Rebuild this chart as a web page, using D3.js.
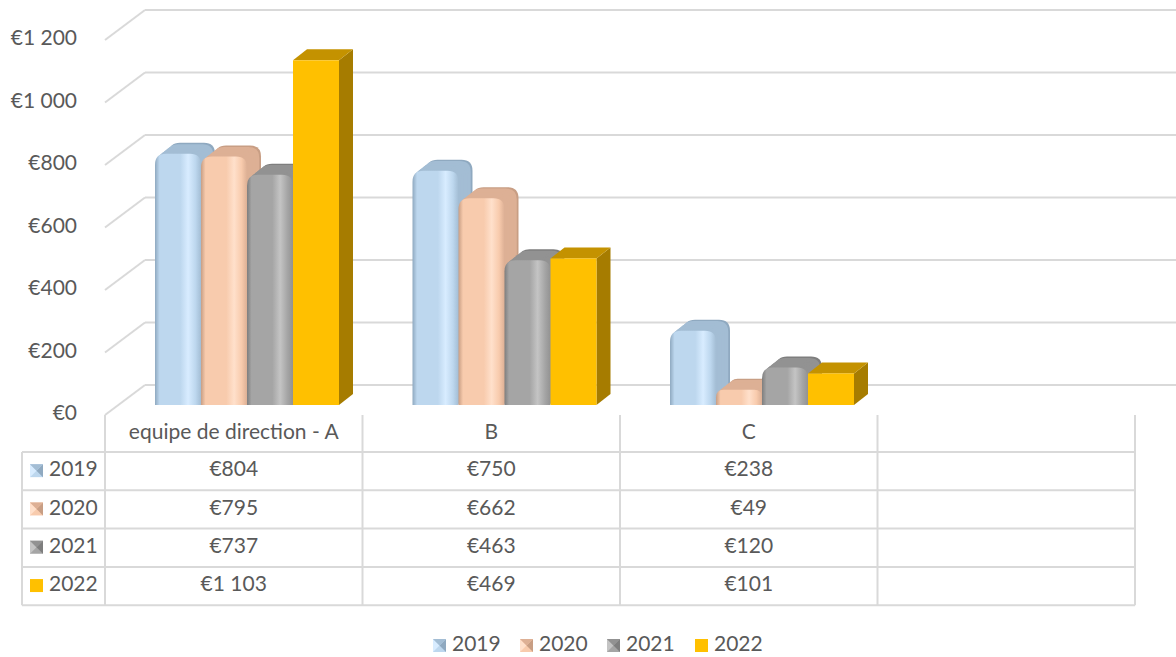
<!DOCTYPE html>
<html>
<head>
<meta charset="utf-8">
<script src="https://cdnjs.cloudflare.com/ajax/libs/d3/7.8.5/d3.min.js"></script>
<style>
  body { margin: 0; background: #fff; }
  text { font-family: Lato, "Open Sans", sans-serif; fill: #595959; }
</style>
</head>
<body>
<div id="chart"></div>
<script>
// Data
const categories = ["equipe de direction - A", "B", "C", ""];
const series = ["2019", "2020", "2021", "2022"];
const values2019 = [804, 750, 238, null];
const values2020 = [795, 662, 49, null];
const values2021 = [737, 463, 120, null];
const values2022 = [1103, 469, 101, null];
const yTicks = [0, 200, 400, 600, 800, 1000, 1200];

const allValues = [values2019, values2020, values2021, values2022];

// styling per series
const styles = [
    { base: "#BDD7EE", edge: "#A3BDD4", light: "#D8ECFF", dark: "#8FA9C0", bevel: true },
    { base: "#F8CBAD", edge: "#DDB095", light: "#FFE0CB", dark: "#C89E84", bevel: true },
    { base: "#A5A5A5", edge: "#929292", light: "#C4C4C4", dark: "#7E7E7E", bevel: true },
    { base: "#FFC000", edge: "#FFC000", light: "#FFC000", dark: "#A67C00", top: "#C49200", bevel: false }
];

const width = 1176, height = 657;
const depthX = 40, depthY = -30;       // wall depth
const barDX = 14, barDY = -11;         // bar depth
const fontSize = "21px";

const eur = d3.formatLocale({ decimal: ",", thousands: " ", grouping: [3], currency: ["€", ""] });
const fmt = eur.format("$,.0f");

const svg = d3.select("#chart").append("svg")
    .attr("width", width).attr("height", height);

const defs = svg.append("defs");
styles.forEach((s, i) => {
    if (!s.bevel) return;
    const g = defs.append("linearGradient").attr("id", "grad" + i)
        .attr("x1", "0%").attr("x2", "100%").attr("y1", "0%").attr("y2", "0%");
    g.append("stop").attr("offset", "0%").attr("stop-color", s.dark);
    g.append("stop").attr("offset", "10%").attr("stop-color", s.base);
    g.append("stop").attr("offset", "55%").attr("stop-color", s.base);
    g.append("stop").attr("offset", "72%").attr("stop-color", s.light);
    g.append("stop").attr("offset", "88%").attr("stop-color", s.base);
    g.append("stop").attr("offset", "100%").attr("stop-color", s.edge);
    const k = defs.append("linearGradient").attr("id", "key" + i)
        .attr("x1", "0%").attr("x2", "100%").attr("y1", "0%").attr("y2", "0%");
    k.append("stop").attr("offset", "0%").attr("stop-color", s.light);
    k.append("stop").attr("offset", "100%").attr("stop-color", s.dark);
});

// scales
const x = d3.scaleBand().domain(categories).range([105, 1135]);
const xs = d3.scaleBand().domain(series).range([50, 234]);
const y = d3.scaleLinear().domain([0, 1200]).range([405, 30]);

// gridlines: back wall + left side wall
const grid = svg.append("g");
yTicks.forEach(t => {
    const yf = y(t) + 10;
    grid.append("line")
        .attr("x1", 105).attr("y1", yf)
        .attr("x2", 105 + depthX).attr("y2", yf + depthY)
        .attr("stroke", "#D9D9D9").attr("stroke-width", 2);
    grid.append("line")
        .attr("x1", 105 + depthX).attr("y1", yf + depthY)
        .attr("x2", width).attr("y2", yf + depthY)
        .attr("stroke", "#D9D9D9").attr("stroke-width", 2);
    svg.append("text")
        .attr("x", 77).attr("y", yf)
        .attr("text-anchor", "end").attr("dominant-baseline", "middle")
        .style("font-size", fontSize)
        .text(fmt(t));
});

// rounded-top shape
function roundTop(x0, y0, w, h, r) {
    r = Math.min(r, h / 2, w / 2);
    return `M${x0},${y0 + h} L${x0},${y0 + r} Q${x0},${y0} ${x0 + r},${y0} ` +
        `L${x0 + w - r},${y0} Q${x0 + w},${y0} ${x0 + w},${y0 + r} L${x0 + w},${y0 + h} Z`;
}

const bars = svg.append("g");
categories.forEach((c, ci) => {
    series.forEach((s, si) => {
        const v = allValues[si][ci];
        if (v === null || v === undefined) return;
        const st = styles[si];
        const x0 = x(c) + xs(s);
        const w = xs.bandwidth();
        const y0 = y(v);
        const h = y(0) - y0;
        if (st.bevel) {
            // extrusion of the rounded shape towards the back
            const steps = 8;
            for (let k = steps; k >= 1; k--) {
                const f = k / steps;
                bars.append("path")
                    .attr("d", roundTop(x0 + barDX * f, y0 + barDY * f, w, h, 11))
                    .attr("fill", k === steps ? st.dark : st.edge);
            }
            bars.append("path")
                .attr("d", roundTop(x0, y0, w, h, 11))
                .attr("fill", `url(#grad${si})`);
        } else {
            // plain box
            bars.append("path")
                .attr("d", `M${x0 + w},${y0} L${x0 + w + barDX},${y0 + barDY} L${x0 + w + barDX},${y0 + h + barDY} L${x0 + w},${y0 + h} Z`)
                .attr("fill", st.dark);
            bars.append("path")
                .attr("d", `M${x0},${y0} L${x0 + barDX},${y0 + barDY} L${x0 + w + barDX},${y0 + barDY} L${x0 + w},${y0} Z`)
                .attr("fill", st.top);
            bars.append("rect")
                .attr("x", x0).attr("y", y0).attr("width", w).attr("height", h)
                .attr("fill", st.base);
        }
    });
});

// legend key drawer
function drawKey(g, kx, ky, si) {
    const st = styles[si];
    const s = 13;
    if (!st.bevel) {
        g.append("rect").attr("x", kx).attr("y", ky).attr("width", s).attr("height", s).attr("fill", st.base);
        return;
    }
    g.append("rect").attr("x", kx).attr("y", ky).attr("width", s).attr("height", s).attr("fill", st.base);
    g.append("path")
        .attr("d", `M${kx},${ky} L${kx + s / 2},${ky + s / 2} L${kx},${ky + s} Z`)
        .attr("fill", st.light);
    g.append("path")
        .attr("d", `M${kx + s},${ky} L${kx + s},${ky + s} L${kx + s / 2},${ky + s / 2} Z`)
        .attr("fill", st.dark);
    g.append("path")
        .attr("d", `M${kx},${ky} L${kx + s},${ky} L${kx + s / 2},${ky + s / 2} Z`)
        .attr("fill", st.edge);
}

// data table
const table = svg.append("g");
const rowTop = 452, rowH = 38.3;
const lineColor = "#D9D9D9";
// vertical category separators
x.domain().concat(["end"]).forEach((c, i) => {
    const xv = i < categories.length ? x(c) : x.range()[1];
    table.append("line")
        .attr("x1", xv).attr("x2", xv).attr("y1", 415).attr("y2", rowTop + rowH * 4)
        .attr("stroke", lineColor).attr("stroke-width", 2);
});
table.append("line")
    .attr("x1", 22).attr("x2", 22).attr("y1", rowTop).attr("y2", rowTop + rowH * 4)
    .attr("stroke", lineColor).attr("stroke-width", 2);
d3.range(5).forEach(r => {
    table.append("line")
        .attr("x1", 22).attr("x2", 1135)
        .attr("y1", rowTop + r * rowH).attr("y2", rowTop + r * rowH)
        .attr("stroke", lineColor).attr("stroke-width", 2);
});
// header
categories.forEach(c => {
    table.append("text")
        .attr("x", x(c) + x.bandwidth() / 2).attr("y", 434)
        .attr("text-anchor", "middle").attr("dominant-baseline", "middle")
        .style("font-size", fontSize).text(c);
});
series.forEach((s, si) => {
    const cy = rowTop + si * rowH + rowH / 2;
    drawKey(table, 30, cy - 7, si);
    table.append("text")
        .attr("x", 49).attr("y", cy)
        .attr("dominant-baseline", "middle")
        .style("font-size", fontSize).text(s);
    categories.forEach((c, ci) => {
        const v = allValues[si][ci];
        if (v === null) return;
        table.append("text")
            .attr("x", x(c) + x.bandwidth() / 2).attr("y", cy)
            .attr("text-anchor", "middle").attr("dominant-baseline", "middle")
            .style("font-size", fontSize).text(fmt(v));
    });
});

// legend
const legend = svg.append("g");
const legendX = [433, 520, 607, 695];
series.forEach((s, si) => {
    drawKey(legend, legendX[si], 639, si);
    legend.append("text")
        .attr("x", legendX[si] + 19).attr("y", 646)
        .attr("dominant-baseline", "middle")
        .style("font-size", fontSize).text(s);
});
</script>
</body>
</html>
